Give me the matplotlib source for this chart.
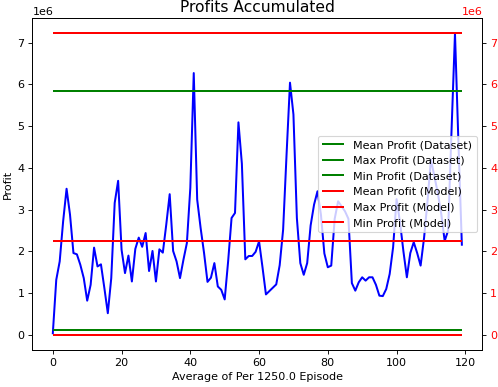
import matplotlib
matplotlib.use("Agg")
import matplotlib.pyplot as plt
import numpy as np

# profit per averaged block (x 1e6)
profits = np.array([
    0.04, 1.32, 1.76, 2.72, 3.50, 2.88, 1.96, 1.93, 1.68, 1.36,
    0.82, 1.20, 2.09, 1.64, 1.69, 1.12, 0.52, 1.36, 3.16, 3.69,
    2.04, 1.48, 1.90, 1.28, 2.06, 2.33, 2.11, 2.44, 1.53, 2.01,
    1.28, 2.05, 1.97, 2.64, 3.37, 2.01, 1.76, 1.36, 1.80, 2.20,
    3.52, 6.27, 3.24, 2.56, 1.96, 1.27, 1.37, 1.72, 1.16, 1.08,
    0.85, 1.76, 2.80, 2.92, 5.09, 4.10, 1.81, 1.89, 1.89, 1.99,
    2.24, 1.62, 0.97, 1.05, 1.13, 1.21, 1.67, 2.52, 4.32, 6.04,
    5.28, 2.80, 1.72, 1.44, 1.72, 2.62, 3.12, 3.44, 2.88, 1.95,
    1.62, 1.66, 2.78, 3.20, 3.08, 2.96, 2.78, 1.24, 1.06, 1.26,
    1.38, 1.30, 1.38, 1.38, 1.20, 0.94, 0.93, 1.10, 1.46, 2.10,
    3.25, 2.70, 2.00, 1.38, 1.96, 2.22, 1.96, 1.66, 2.32, 3.20,
    4.20, 3.80, 3.40, 2.90, 2.25, 2.50, 4.90, 7.22, 4.60, 2.16,
]) * 1e6

dataset_labels = ["Mean Profit (Dataset)", "Max Profit (Dataset)", "Min Profit (Dataset)"]
dataset_values = [0.11e6, 5.85e6, 0.0]
model_labels = ["Mean Profit (Model)", "Max Profit (Model)", "Min Profit (Model)"]
model_values = [2.25e6, 7.22e6, 0.0]

episodes_per_point = 1250.0

fig, ax = plt.subplots(figsize=(6.225, 4.8375), dpi=80)
fig.subplots_adjust(left=0.065, right=0.9685, bottom=0.0956, top=0.9527)

x = np.arange(len(profits))
ax.plot(x, profits, color="b", lw=1.8)

handles = []
for label, val in zip(dataset_labels, dataset_values):
    h = ax.hlines(val, 0, len(profits) - 1, colors="g", lw=1.8, label=label)
    handles.append(h)

ax2 = ax.twinx()
for label, val in zip(model_labels, model_values):
    h = ax2.hlines(val, 0, len(profits) - 1, colors="r", lw=1.8, label=label)
    handles.append(h)

ax2.set_ylim(ax.get_ylim())
ax2.tick_params(axis="y", labelcolor="red")

ax.set_title("Profits Accumulated", fontsize=14)
ax.set_xlabel(f"Average of Per {episodes_per_point} Episode")
ax.set_ylabel("Profit")

ax2.legend(handles=handles, labels=[h.get_label() for h in handles], loc="center right")

fig.savefig("out.png", dpi=80)
